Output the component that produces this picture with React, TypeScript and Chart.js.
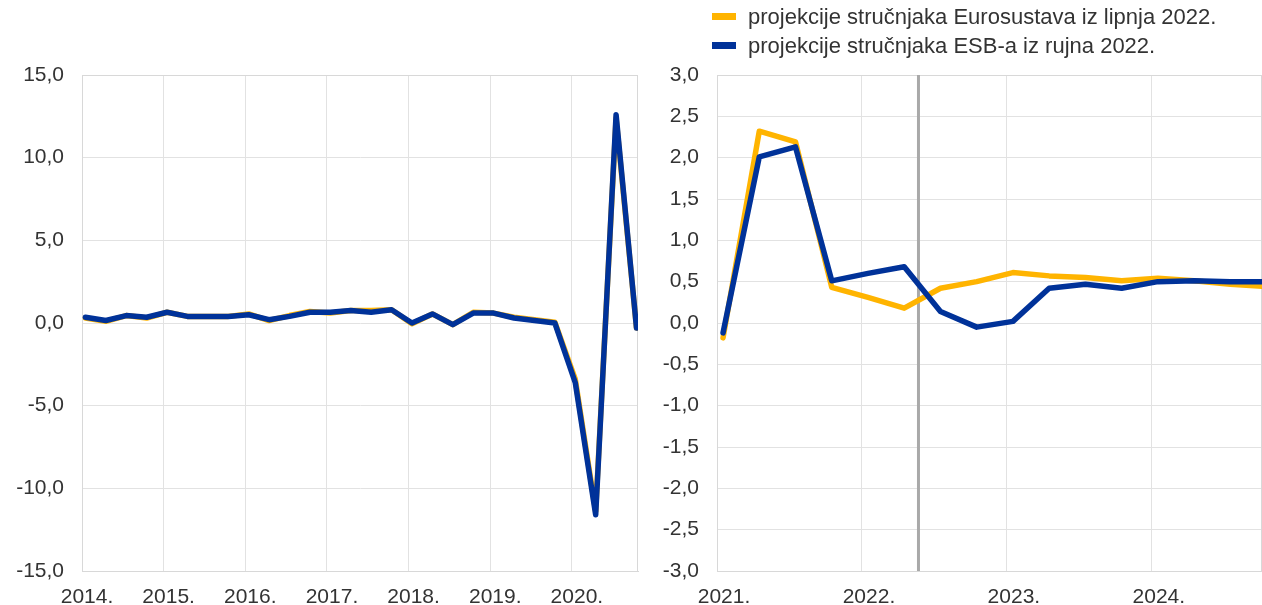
import React, { useEffect, useRef } from 'react';
import { Chart, registerables } from 'chart.js';
Chart.register(...registerables);

// ---------- data ----------
const leftQuarters = [
  '2014Q1', '2014Q2', '2014Q3', '2014Q4',
  '2015Q1', '2015Q2', '2015Q3', '2015Q4',
  '2016Q1', '2016Q2', '2016Q3', '2016Q4',
  '2017Q1', '2017Q2', '2017Q3', '2017Q4',
  '2018Q1', '2018Q2', '2018Q3', '2018Q4',
  '2019Q1', '2019Q2', '2019Q3', '2019Q4',
  '2020Q1', '2020Q2', '2020Q3', '2020Q4',
];
const leftJune = [
  0.3, 0.1, 0.45, 0.3, 0.65, 0.4, 0.4, 0.4, 0.55, 0.15, 0.45, 0.7,
  0.6, 0.75, 0.75, 0.8, -0.05, 0.55, -0.1, 0.65, 0.6, 0.35, 0.2, 0.05,
  -3.4, -11.4, 12.4, -0.3,
];
const leftSept = [
  0.35, 0.15, 0.45, 0.35, 0.65, 0.4, 0.4, 0.4, 0.5, 0.2, 0.4, 0.65,
  0.65, 0.75, 0.65, 0.8, 0.0, 0.55, -0.1, 0.6, 0.6, 0.3, 0.15, 0.0,
  -3.6, -11.6, 12.6, -0.3,
];
const leftYears = [2014, 2015, 2016, 2017, 2018, 2019, 2020];

const rightQuarters = [
  '2021Q1', '2021Q2', '2021Q3', '2021Q4',
  '2022Q1', '2022Q2', '2022Q3', '2022Q4',
  '2023Q1', '2023Q2', '2023Q3', '2023Q4',
  '2024Q1', '2024Q2', '2024Q3', '2024Q4',
];
const rightJune = [
  -0.18, 2.32, 2.19, 0.43, 0.31, 0.18, 0.42, 0.5,
  0.61, 0.57, 0.55, 0.51, 0.54, 0.51, 0.47, 0.44,
];
const rightSept = [
  -0.12, 2.01, 2.13, 0.51, 0.6, 0.68, 0.14, -0.05,
  0.02, 0.42, 0.47, 0.42, 0.5, 0.51, 0.5, 0.5,
];
const rightYears = [2021, 2022, 2023, 2024];
const projectionStart = 2022.39;

const seriesNames = [
  'projekcije stručnjaka Eurosustava iz lipnja 2022.',
  'projekcije stručnjaka ESB-a iz rujna 2022.',
];

// ---------- styles ----------
const YELLOW = '#FFB400';
const BLUE = '#003299';
const GRID = '#e2e2e2';
const BORDER = '#d8d8d8';
const TEXT = '#333333';
const FONT = "'Liberation Sans', Arial, Helvetica, sans-serif";
const FONT_SIZE = 21;
const LEGEND_FONT_SIZE = 22;

// quarter label -> position on a yearly linear axis (mid first month of quarter)
const qx = (label: string) => {
  const y = parseInt(label.slice(0, 4), 10);
  const q = parseInt(label.slice(5), 10);
  return y + (q - 1) / 4 + 1 / 24;
};

const fmtComma = (v: number) => v.toFixed(1).replace('.', ',');

const frameBorder = {
  id: 'frameBorder',
  beforeDatasetsDraw(chart: any) {
    const { ctx, chartArea } = chart;
    ctx.save();
    ctx.strokeStyle = BORDER;
    ctx.lineWidth = 1;
    ctx.strokeRect(
      Math.round(chartArea.left) + 0.5,
      Math.round(chartArea.top) + 0.5,
      Math.round(chartArea.right - chartArea.left) - 1,
      Math.round(chartArea.bottom - chartArea.top)
    );
    ctx.restore();
  },
};

const markerLine = {
  id: 'markerLine',
  beforeDatasetsDraw(chart: any) {
    const { ctx, chartArea, scales } = chart;
    const x = scales.x.getPixelForValue(projectionStart);
    ctx.save();
    ctx.strokeStyle = '#a9a9a9';
    ctx.lineWidth = 3;
    ctx.beginPath();
    ctx.moveTo(x, chartArea.top);
    ctx.lineTo(x, chartArea.bottom);
    ctx.stroke();
    ctx.restore();
  },
};

function makeDataset(values: number[], quarters: string[], color: string) {
  return {
    data: values.map((v, i) => ({ x: qx(quarters[i]), y: v })),
    borderColor: color,
    backgroundColor: color,
    borderWidth: 5.5,
    pointRadius: 0,
    pointHoverRadius: 0,
    tension: 0,
    fill: false,
    borderJoinStyle: 'round' as const,
    borderCapStyle: 'round' as const,
  };
}

function buildConfig(opts: {
  quarters: string[];
  june: number[];
  sept: number[];
  years: number[];
  xMin: number;
  xMax: number;
  yMin: number;
  yMax: number;
  step: number;
  yWidth: number;
  padRight: number;
  labelOffset: number;
  plugins: any[];
}) {
  return {
    type: 'line' as const,
    data: {
      datasets: [
        makeDataset(opts.sept, opts.quarters, BLUE),
        makeDataset(opts.june, opts.quarters, YELLOW),
      ],
    },
    plugins: opts.plugins,
    options: {
      animation: false as const,
      responsive: false,
      maintainAspectRatio: false,
      layout: { padding: { left: 0, right: opts.padRight, top: 75, bottom: 0 } },
      plugins: { legend: { display: false }, tooltip: { enabled: false } },
      scales: {
        x: {
          type: 'linear' as const,
          min: opts.xMin,
          max: opts.xMax,
          afterBuildTicks: (axis: any) => {
            axis.ticks = opts.years.map((v) => ({ value: v }));
          },
          afterFit: (axis: any) => {
            axis.height = 34;
          },
          grid: { color: GRID, lineWidth: 1, drawTicks: false },
          border: { color: BORDER, width: 1 },
          ticks: {
            autoSkip: false,
            maxRotation: 0,
            padding: 14,
            labelOffset: opts.labelOffset,
            color: TEXT,
            font: { family: FONT, size: FONT_SIZE },
            callback: (v: any) => `${v}.`,
          },
        },
        y: {
          min: opts.yMin,
          max: opts.yMax,
          afterFit: (axis: any) => {
            axis.width = opts.yWidth;
          },
          grid: { color: GRID, lineWidth: 1, drawTicks: false },
          border: { color: BORDER, width: 1 },
          ticks: {
            stepSize: opts.step,
            padding: 18,
            color: TEXT,
            font: { family: FONT, size: FONT_SIZE },
            callback: (v: any) => fmtComma(Number(v)),
          },
        },
      },
    },
  };
}

export default function App() {
  const leftRef = useRef<HTMLCanvasElement>(null);
  const rightRef = useRef<HTMLCanvasElement>(null);

  useEffect(() => {
    const left = new Chart(
      leftRef.current as HTMLCanvasElement,
      buildConfig({
        quarters: leftQuarters,
        june: leftJune,
        sept: leftSept,
        years: leftYears,
        xMin: 2014,
        xMax: 2020.81,
        yMin: -15,
        yMax: 15,
        step: 5,
        yWidth: 82,
        padRight: 12,
        labelOffset: 5,
        plugins: [frameBorder],
      }) as any
    );
    const right = new Chart(
      rightRef.current as HTMLCanvasElement,
      buildConfig({
        quarters: rightQuarters,
        june: rightJune,
        sept: rightSept,
        years: rightYears,
        xMin: 2021,
        xMax: 2024.76,
        yMin: -3,
        yMax: 3,
        step: 0.5,
        yWidth: 67,
        padRight: 0,
        labelOffset: 7,
        plugins: [frameBorder, markerLine],
      }) as any
    );
    return () => {
      left.destroy();
      right.destroy();
    };
  }, []);

  const legendColors = [YELLOW, BLUE];

  return (
    <div
      style={{
        position: 'fixed',
        left: 0,
        top: 0,
        width: 1262,
        height: 605,
        overflow: 'hidden',
        background: '#ffffff',
        fontFamily: FONT,
      }}
    >
      <canvas
        ref={leftRef}
        width={650}
        height={605}
        style={{ position: 'absolute', left: 0, top: 0, width: 650, height: 605 }}
      />
      <canvas
        ref={rightRef}
        width={612}
        height={605}
        style={{ position: 'absolute', left: 650, top: 0, width: 612, height: 605 }}
      />
      <div style={{ position: 'absolute', left: 712, top: 2 }}>
        {seriesNames.map((name, i) => (
          <div
            key={name}
            style={{
              display: 'flex',
              alignItems: 'center',
              height: 29,
              lineHeight: '29px',
              fontSize: LEGEND_FONT_SIZE,
              color: TEXT,
              whiteSpace: 'nowrap',
            }}
          >
            <span
              style={{
                display: 'inline-block',
                width: 24,
                height: 7,
                background: legendColors[i],
                marginRight: 12,
              }}
            />
            <span>{name}</span>
          </div>
        ))}
      </div>
    </div>
  );
}
